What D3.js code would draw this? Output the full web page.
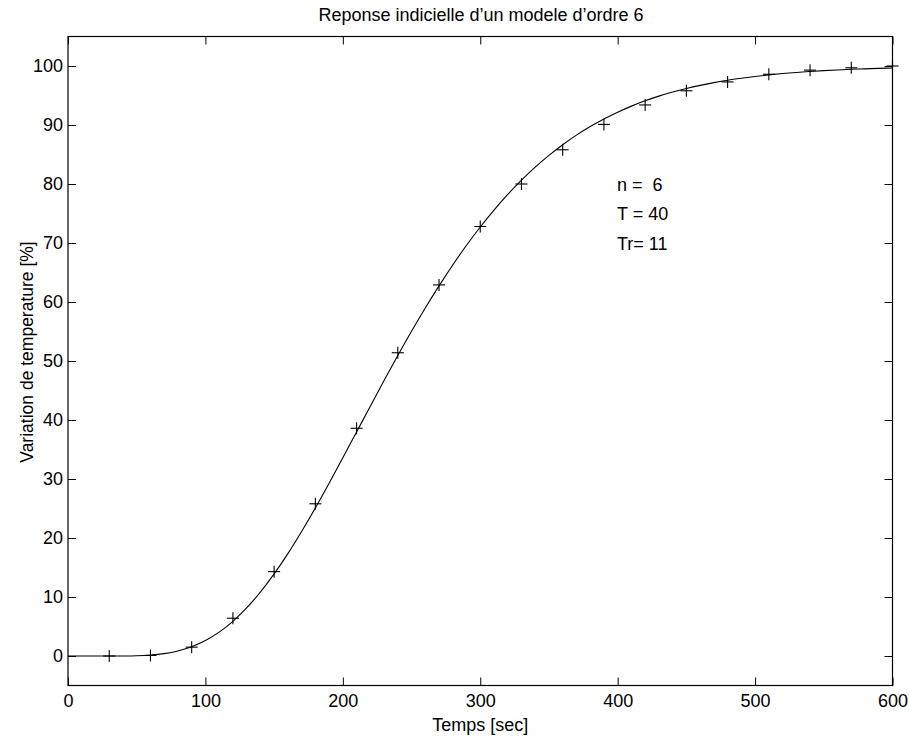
<!DOCTYPE html>
<html><head><meta charset="utf-8">
<script src="https://cdn.jsdelivr.net/npm/d3@7"></script>
<style>body{margin:0;background:#fff}svg{display:block}text{font-family:"Liberation Sans",Arial,sans-serif;fill:#000}</style>
</head><body><svg id="c" width="909" height="738"></svg>
<script>
// measured points (markers)
const markerT = [30,60,90,120,150,180,210,240,270,300,330,360,390,420,450,480,510,540,570,600];
const markerV = [0,0.1,1.5,6.4,14.3,25.8,38.6,51.4,62.9,72.8,80.0,85.8,90.1,93.4,95.8,97.3,98.6,99.3,99.7,100];
// model curve, read every 10 s
const curveT = [0,10,20,30,40,50,60,70,80,90,100,110,120,130,140,150,160,170,180,190,200,210,220,230,240,250,260,270,280,290,300,310,320,330,340,350,360,370,380,390,400,410,420,430,440,450,460,470,480,490,500,510,520,530,540,550,560,570,580,590,600];
const curveV = [0,0,0,0,0.01,0.05,0.17,0.41,0.86,1.57,2.61,4.04,5.88,8.14,10.83,13.91,17.35,21.10,25.09,29.28,33.59,37.97,42.35,46.68,50.92,55.03,58.97,62.73,66.28,69.61,72.71,75.58,78.23,80.65,82.85,84.85,86.66,88.28,89.73,91.03,92.18,93.20,94.10,94.89,95.58,96.19,96.72,97.18,97.59,97.93,98.23,98.49,98.72,98.91,99.07,99.21,99.33,99.44,99.52,99.60,99.66];
const xTicks = [0,100,200,300,400,500,600];
const yTicks = [0,10,20,30,40,50,60,70,80,90,100];
const annot = ["n =  6","T = 40","Tr= 11"];
const title = "Reponse indicielle d\u2019un modele d\u2019ordre 6";
const xLabel = "Temps [sec]";
const yLabel = "Variation de temperature [%]";

const svg = d3.select("#c");
const L=68, R=892.5, T=36.5, B=685.5;
const x = d3.scaleLinear().domain([0,600]).range([L,R]);
const y = d3.scaleLinear().domain([-5,105]).range([B,T]);
const tk = 8;
const fs = "18px";

const ax = (g)=>{g.select(".domain").remove();};
svg.append("g").attr("transform",`translate(0,${B})`)
  .call(d3.axisBottom(x).tickValues(xTicks).tickSize(-tk).tickPadding(9).tickFormat(d3.format("d")))
  .call(ax).call(g=>g.selectAll("text").style("font-size",fs));
svg.append("g").attr("transform",`translate(0,${T})`)
  .call(d3.axisTop(x).tickValues(xTicks).tickSize(-tk).tickFormat(""))
  .call(ax);
svg.append("g").attr("transform",`translate(${L},0)`)
  .call(d3.axisLeft(y).tickValues(yTicks).tickSize(-tk).tickPadding(5).tickFormat(d3.format("d")))
  .call(ax).call(g=>g.selectAll("text").style("font-size",fs));
svg.append("g").attr("transform",`translate(${R},0)`)
  .call(d3.axisRight(y).tickValues(yTicks).tickSize(-tk).tickFormat(""))
  .call(ax);
svg.selectAll(".tick line").attr("stroke","#000");
svg.append("rect").attr("x",L).attr("y",T).attr("width",R-L).attr("height",B-T)
  .attr("fill","none").attr("stroke","#000").attr("stroke-width",1.2);

const line = d3.line().x((d,i)=>x(curveT[i])).y(d=>y(d)).curve(d3.curveMonotoneX);
svg.append("path").datum(curveV).attr("d",line).attr("fill","none").attr("stroke","#000").attr("stroke-width",1.1);

const m=6;
const mk = svg.append("g").attr("stroke","#000").attr("stroke-width",1.1);
markerV.forEach((v,i)=>{
  const px=x(markerT[i]), py=y(v);
  mk.append("line").attr("x1",px-m).attr("x2",px+m).attr("y1",py).attr("y2",py);
  mk.append("line").attr("x1",px).attr("x2",px).attr("y1",py-m).attr("y2",py+m);
});

svg.append("text").attr("x",481).attr("y",21).attr("text-anchor","middle").style("font-size",fs).text(title);
svg.append("text").attr("x",(L+R)/2).attr("y",731).attr("text-anchor","middle").style("font-size",fs).text(xLabel);
svg.append("text").attr("transform",`translate(33,352) rotate(-90)`).attr("text-anchor","middle").style("font-size","17.5px").text(yLabel);
const annY=[191,220,250];
annot.forEach((s,i)=>{
  svg.append("text").attr("x",617).attr("y",annY[i]).style("font-size",fs).style("white-space","pre").attr("xml:space","preserve").text(s);
});
</script></body></html>
